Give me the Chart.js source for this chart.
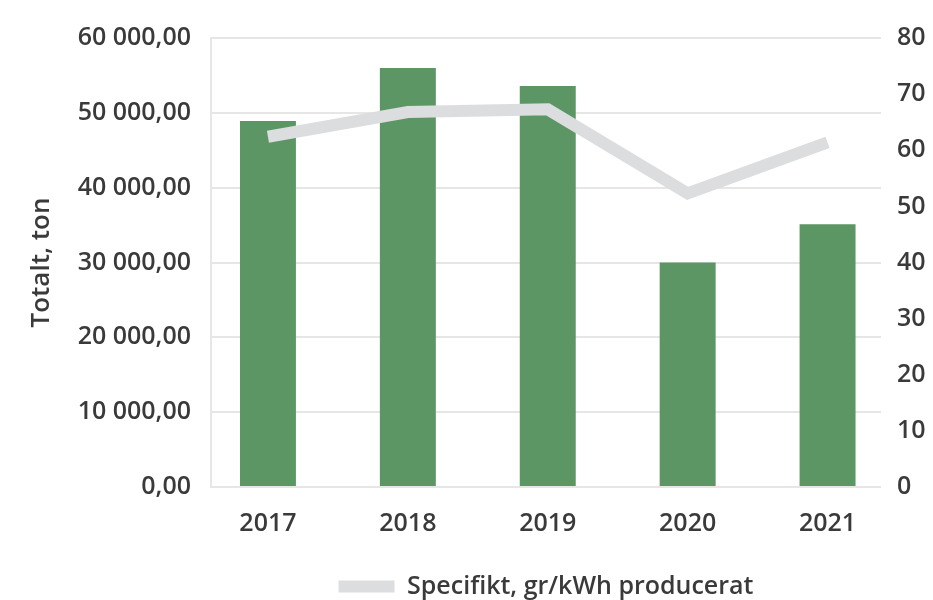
<!DOCTYPE html>
<html lang="sv">
<head>
<meta charset="utf-8">
<title>Totalt och specifikt</title>
<script src="https://cdn.jsdelivr.net/npm/chart.js@4/dist/chart.umd.min.js"></script>
<style>
    html, body { margin: 0; padding: 0; background: #ffffff; }
    #wrap { width: 933px; height: 600px; position: relative; }
</style>
</head>
<body>
<div id="wrap"><canvas id="grafik"></canvas></div>
<script>
// Data
const ar = ["2017", "2018", "2019", "2020", "2021"];
const totaltTon = [48900, 56000, 53600, 30000, 35100];
const specifikt = [62.4, 66.8, 67.3, 52.3, 61.4];
const vansterTicks = [0, 10000, 20000, 30000, 40000, 50000, 60000];
const hogerTicks = [0, 10, 20, 30, 40, 50, 60, 70, 80];

const textFarg = "#3a3a3a";
const typsnitt = "'Open Sans', 'Noto Sans', sans-serif";
const vikt = "600";

// 60000 -> "60 000,00"
function formateraTal(v) {
    const heltal = Math.round(v).toString().replace(/\B(?=(\d{3})+(?!\d))/g, " ");
    return heltal + ",00";
}

const ctx = document.getElementById("grafik").getContext("2d");

new Chart(ctx, {
    type: "bar",
    data: {
        datasets: [
            {
                type: "line",
                label: "Specifikt, gr/kWh producerat",
                data: ar.map((_, i) => ({ x: i, y: specifikt[i] })),
                yAxisID: "y1",
                borderColor: "#dcdddf",
                backgroundColor: "#dcdddf",
                borderWidth: 12,
                pointRadius: 0,
                tension: 0,
                order: 0,
            },
            {
                label: "Totalt, ton",
                data: ar.map((_, i) => ({ x: i, y: totaltTon[i] })),
                yAxisID: "y",
                backgroundColor: "#5b9664",
                borderWidth: 0,
                barPercentage: 0.4,
                categoryPercentage: 1,
                order: 1,
            },
        ],
    },
    options: {
        responsive: true,
        maintainAspectRatio: false,
        animation: false,
        layout: {
            padding: { top: 38, right: 0, bottom: -9, left: 0 },
        },
        plugins: {
            tooltip: { enabled: false },
            legend: {
                position: "bottom",
                fullSize: false,
                labels: {
                    color: textFarg,
                    font: { family: typsnitt, size: 25, weight: vikt },
                    boxWidth: 56,
                    boxHeight: 12,
                    padding: 10,
                    filter: (item) => item.datasetIndex === 0,
                    generateLabels: (chart) => {
                        const standard = Chart.defaults.plugins.legend.labels.generateLabels(chart);
                        return standard.map((l) => ({ ...l, lineWidth: 0, fillStyle: "#dcdddf" }));
                    },
                },
            },
        },
        scales: {
            x: {
                type: "linear",
                min: -0.407,
                max: 4.382,
                offset: false,
                grid: { display: false, offset: false },
                border: { display: false },
                ticks: {
                    stepSize: 1,
                    includeBounds: false,
                    autoSkip: false,
                    maxRotation: 0,
                    padding: 14,
                    color: textFarg,
                    font: { family: typsnitt, size: 25, weight: vikt },
                    callback: (v) => ar[v] ?? "",
                },
                afterFit: (s) => { s.height = 77; },
            },
            y: {
                position: "left",
                min: 0,
                max: 60000,
                afterBuildTicks: (s) => { s.ticks = vansterTicks.map((v) => ({ value: v })); },
                grid: { color: "#e6e6e6", lineWidth: 2, drawTicks: false },
                border: { display: true, color: "#e6e6e6", width: 2 },
                ticks: {
                    padding: 20,
                    color: textFarg,
                    font: { family: typsnitt, size: 25, weight: vikt },
                    callback: (v) => formateraTal(v),
                },
                title: {
                    display: true,
                    text: "Totalt, ton",
                    color: textFarg,
                    font: { family: typsnitt, size: 26, weight: vikt },
                    padding: { top: 26, bottom: 0 },
                },
                afterFit: (s) => { s.width = 211; },
            },
            y1: {
                position: "right",
                min: 0,
                max: 80,
                afterBuildTicks: (s) => { s.ticks = hogerTicks.map((v) => ({ value: v })); },
                grid: { display: false, drawTicks: false },
                border: { display: false },
                ticks: {
                    padding: 16,
                    color: textFarg,
                    font: { family: typsnitt, size: 25, weight: vikt },
                },
                afterFit: (s) => { s.width = 52; },
            },
        },
    },
});
</script>
</body>
</html>
